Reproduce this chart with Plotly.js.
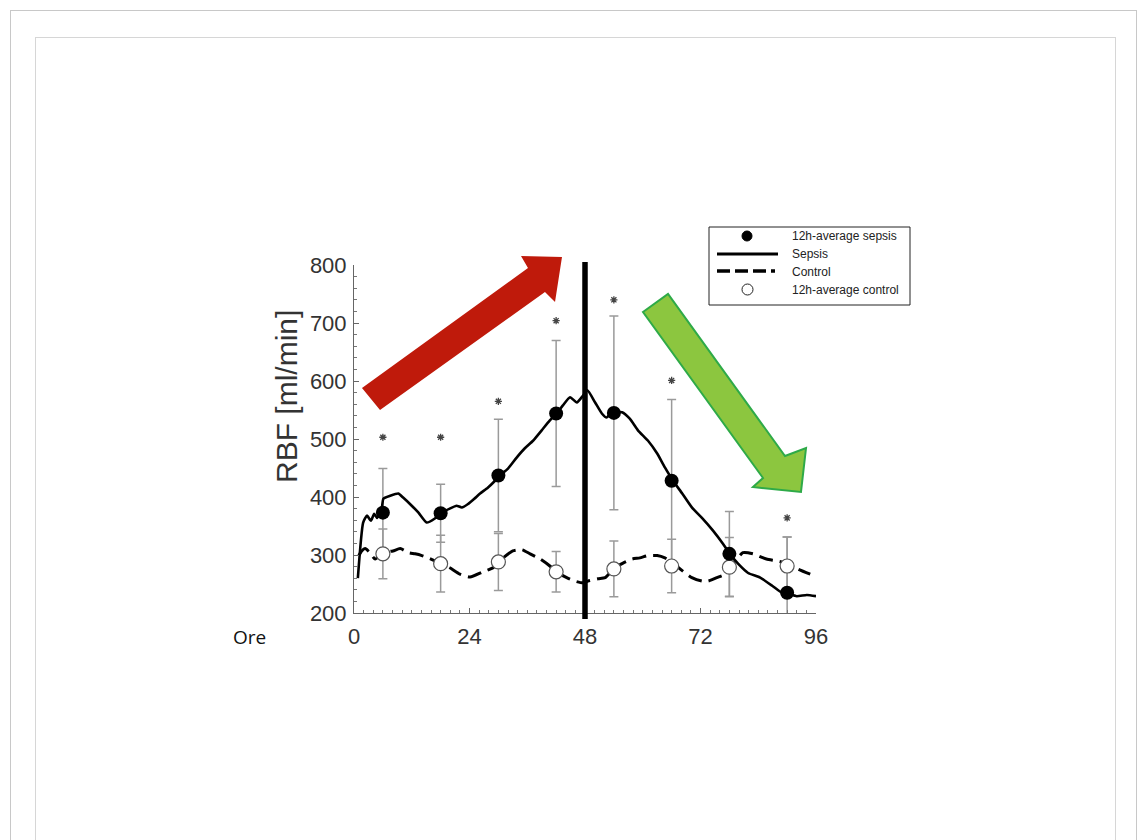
<!DOCTYPE html>
<html>
<head>
<meta charset="utf-8">
<script src="https://cdn.plot.ly/plotly-3.0.1.min.js"></script>
<style>
  html, body { margin:0; padding:0; background:#ffffff; }
  #wrap { position:relative; width:1146px; height:840px; overflow:hidden; background:#ffffff; }
  .frame { position:absolute; border-top:1px solid #c8c8c8; border-left:1px solid #c8c8c8; border-right:1px solid #c8c8c8; }
  #chart { position:absolute; left:0; top:0; width:1146px; height:840px; }
</style>
</head>
<body>
<div id="wrap">
  <div class="frame" style="left:10px; top:10px; width:1125px; height:900px;"></div>
  <div class="frame" style="left:35px; top:37px; width:1079px; height:900px; border-color:#d6d6d6;"></div>
  <div id="chart"></div>
</div>
<script>
// ---- data ----
var avgHours = [6, 18, 30, 42, 54, 66, 78, 90];
var sepsisAvg = [373, 372, 437, 544, 545, 428, 302, 235];
var sepsisSD = [76, 50, 97, 126, 167, 140, 73, 96];
var controlAvg = [302, 285, 288, 271, 276, 281, 279, 281];
var controlSD = [43, 49, 49, 35, 48, 46, 51, 50];

var starHours = [6, 18, 30, 42, 54, 66, 90];
var starLevel = [503, 503, 565, 704, 740, 601, 364];

var sepsisHours = [0.8, 1.9, 2.7, 3.5, 4.2, 4.8, 5.8, 6.1, 7.5, 9.2, 10.2, 12.0, 13.4, 15.1, 16.8, 18.2, 19.9, 21.3, 22.4, 23.7, 25.0, 26.2, 27.8, 29.3, 30.3, 32.0, 33.8, 35.5, 37.2, 39.0, 40.7, 42.1, 43.4, 44.9, 46.3, 47.6, 48.5, 50.1, 51.5, 52.5, 53.6, 55.7, 57.3, 59.0, 61.1, 63.0, 64.6, 66.3, 68.2, 70.2, 72.3, 74.6, 76.7, 78.1, 79.8, 81.9, 84.4, 86.9, 88.9, 90.2, 92.0, 94.1, 96.0];
var sepsisVals = [260, 356, 368, 359, 371, 364, 382, 397, 402, 406, 399, 385, 373, 356, 363, 373, 380, 385, 382, 388, 397, 406, 416, 428, 437, 449, 468, 484, 497, 515, 532, 544, 558, 572, 563, 575, 584, 563, 544, 537, 546, 546, 535, 515, 497, 475, 451, 428, 406, 382, 364, 342, 319, 302, 285, 269, 261, 247, 235, 233, 229, 231, 229];

var controlHours = [1.0, 1.6, 2.3, 3.3, 4.4, 6.0, 8.1, 9.6, 11.3, 12.7, 14.1, 15.4, 16.8, 18.2, 19.9, 22.0, 24.1, 26.8, 28.9, 30.0, 33.0, 34.9, 36.6, 38.7, 40.7, 42.0, 44.2, 45.9, 47.6, 48.6, 50.7, 52.2, 54.2, 55.9, 57.8, 59.4, 61.1, 63.0, 64.6, 66.3, 68.2, 70.2, 72.3, 73.6, 75.4, 77.1, 78.0, 79.6, 80.8, 82.9, 85.7, 87.8, 90.2, 92.2, 94.8];
var controlVals = [299, 307, 311, 304, 293, 304, 307, 311, 304, 302, 299, 295, 290, 285, 278, 267, 262, 271, 278, 288, 307, 309, 302, 293, 281, 271, 261, 255, 252, 255, 259, 261, 278, 286, 293, 295, 299, 299, 295, 286, 273, 261, 255, 255, 261, 267, 279, 293, 304, 302, 293, 290, 285, 276, 267];

var xTickVals = [0, 24, 48, 72, 96];
var yTickVals = [200, 300, 400, 500, 600, 700, 800];
var interventionHour = 48;

var legendLabels = ['12h-average sepsis', 'Sepsis', 'Control', '12h-average control'];
var yTitle = 'RBF [ml/min]';
var xLabel = 'Ore';

// ---- geometry helpers (plot area: x 354..816, y 265..613 px) ----
var L = 354, R = 816, T = 265, B = 613;
function px(x) { return (x - L) / (R - L); }
function py(y) { return (B - y) / (B - T); }
function poly(pts) {
  return 'M' + pts.map(function (p) { return px(p[0]).toFixed(4) + ',' + py(p[1]).toFixed(4); }).join(' L') + ' Z';
}

var errColor = '#9a9a9a';

var traces = [
  { x: avgHours, y: sepsisAvg, type: 'scatter', mode: 'markers', showlegend: false, hoverinfo: 'skip',
    marker: { size: 1, opacity: 0 },
    error_y: { type: 'data', array: sepsisSD, visible: true, color: errColor, thickness: 1.5, width: 4.5 } },
  { x: avgHours, y: controlAvg, type: 'scatter', mode: 'markers', showlegend: false, hoverinfo: 'skip',
    marker: { size: 1, opacity: 0 },
    error_y: { type: 'data', array: controlSD, visible: true, color: errColor, thickness: 1.5, width: 4.5 } },
  { x: controlHours, y: controlVals, type: 'scatter', mode: 'lines', name: legendLabels[2],
    line: { color: '#000', width: 3, dash: '14px,7px', shape: 'spline', smoothing: 0.6 } },
  { x: sepsisHours, y: sepsisVals, type: 'scatter', mode: 'lines', name: legendLabels[1],
    line: { color: '#000', width: 2.6, shape: 'spline', smoothing: 0.5 } },
  { x: avgHours, y: controlAvg, type: 'scatter', mode: 'markers', name: legendLabels[3],
    marker: { size: 14, color: '#ffffff', line: { color: '#555', width: 1.2 } } },
  { x: avgHours, y: sepsisAvg, type: 'scatter', mode: 'markers', name: legendLabels[0],
    marker: { size: 14, color: '#000' } },
  { x: starHours, y: starLevel, type: 'scatter', mode: 'markers', showlegend: false, hoverinfo: 'skip',
    marker: { symbol: 'asterisk-open', size: 6, color: '#444', line: { color: '#444', width: 1.3 } } }
];

var shapes = [
  // vertical line at 48 h
  { type: 'line', xref: 'x', yref: 'paper', x0: interventionHour, x1: interventionHour,
    y0: py(619), y1: py(262), line: { color: '#000', width: 5.5 }, layer: 'above' },
  // red arrow
  { type: 'path', xref: 'paper', yref: 'paper', layer: 'above',
    path: poly([[362, 388], [528, 268], [521, 256], [562, 257], [555, 302], [545, 292], [380, 410]]),
    fillcolor: '#bf1a0b', line: { width: 0 } },
  // green arrow
  { type: 'path', xref: 'paper', yref: 'paper', layer: 'above',
    path: poly([[643, 312], [668, 294], [785, 456], [806, 448], [801, 492], [753, 487], [763, 478]]),
    fillcolor: '#8cc63f', line: { color: '#2eaa48', width: 2 } },
  // legend box
  { type: 'rect', xref: 'paper', yref: 'paper', layer: 'above',
    x0: px(709), x1: px(910), y0: py(305), y1: py(227),
    fillcolor: '#ffffff', line: { color: '#222', width: 1 } },
  // legend symbols
  { type: 'circle', xref: 'paper', yref: 'paper', layer: 'above',
    x0: px(742), x1: px(752), y0: py(241), y1: py(231), fillcolor: '#000', line: { color: '#000', width: 1 } },
  { type: 'line', xref: 'paper', yref: 'paper', layer: 'above',
    x0: px(717), x1: px(778), y0: py(254), y1: py(254), line: { color: '#000', width: 3 } },
  { type: 'line', xref: 'paper', yref: 'paper', layer: 'above',
    x0: px(717), x1: px(775), y0: py(271), y1: py(271), line: { color: '#000', width: 3.5, dash: '13px,5px' } },
  { type: 'circle', xref: 'paper', yref: 'paper', layer: 'above',
    x0: px(742), x1: px(753), y0: py(295), y1: py(284), fillcolor: '#fff', line: { color: '#222', width: 1 } }
];

var legendY = [236, 254, 272, 290];
var annotations = legendLabels.map(function (t, i) {
  return { xref: 'paper', yref: 'paper', x: px(790), y: py(legendY[i]), xanchor: 'left', yanchor: 'middle',
    text: t, showarrow: false, font: { family: 'Liberation Sans, Arial, sans-serif', size: 12, color: '#222' } };
});
annotations.push({ xref: 'paper', yref: 'paper', x: px(286), y: py(397), xanchor: 'center', yanchor: 'middle',
  textangle: -90, text: yTitle, showarrow: false,
  font: { family: 'Liberation Sans, Arial, sans-serif', size: 30, color: '#333' } });
annotations.push({ xref: 'paper', yref: 'paper', x: px(249), y: py(637), xanchor: 'center', yanchor: 'middle',
  text: xLabel, showarrow: false, font: { family: 'Open Sans, sans-serif', size: 19, color: '#111' } });

var axisFont = { family: 'Liberation Sans, Arial, sans-serif', size: 22, color: '#333' };

var layout = {
  width: 1146, height: 840,
  margin: { l: L, r: 1146 - R, t: T, b: 840 - B, pad: 0 },
  paper_bgcolor: 'rgba(0,0,0,0)', plot_bgcolor: 'rgba(0,0,0,0)',
  showlegend: false,
  xaxis: { range: [0, 96], tickvals: xTickVals, ticks: 'inside', ticklen: 5, tickcolor: '#666', tickwidth: 1,
    showline: true, linecolor: '#666', linewidth: 1, showgrid: false, zeroline: false,
    tickfont: axisFont, ticklabelstandoff: 4,
    minor: { dtick: 2, ticks: 'inside', ticklen: 3, tickcolor: '#777', showgrid: false } },
  yaxis: { range: [200, 800], tickvals: yTickVals, ticks: 'inside', ticklen: 5, tickcolor: '#666', tickwidth: 1,
    showline: true, linecolor: '#666', linewidth: 1, showgrid: false, zeroline: false,
    tickfont: axisFont, ticklabelstandoff: 2,
    minor: { dtick: 20, ticks: 'inside', ticklen: 3, tickcolor: '#777', showgrid: false } },
  shapes: shapes,
  annotations: annotations
};

Plotly.newPlot('chart', traces, layout, { displayModeBar: false, staticPlot: true });
</script>
</body>
</html>
